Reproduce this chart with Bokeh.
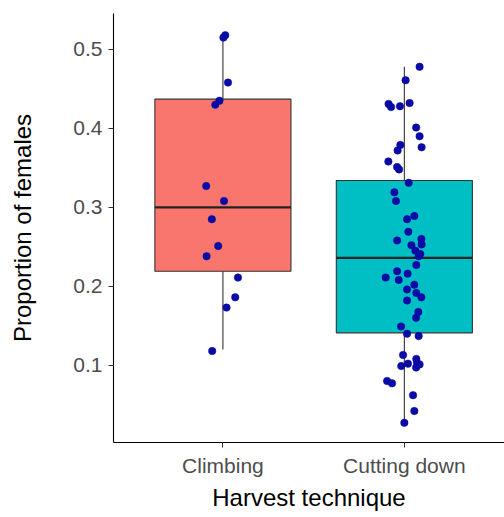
from bokeh.plotting import figure
from bokeh.models import FixedTicker, ColumnDataSource
from bokeh.embed import file_html
from bokeh.resources import INLINE

# ---- data ----
categories = ["Climbing", "Cutting down"]
cat_pos = [1, 2]
box_colors = ["#F8766D", "#00BFC4"]
q1 = [0.219, 0.141]
median = [0.300, 0.236]
q3 = [0.437, 0.334]
whisk_lo = [0.120, 0.027]
whisk_hi = [0.518, 0.478]
box_width = 0.75

climb_y = [0.518, 0.515, 0.458, 0.435, 0.430, 0.327, 0.308, 0.285, 0.251, 0.238,
           0.211, 0.186, 0.173, 0.118]
climb_jit = [0.013, 0.003, 0.028, -0.019, -0.042, -0.092, 0.006, -0.061, -0.026, -0.090,
             0.083, 0.068, 0.020, -0.059]

cut_y = [0.478, 0.461, 0.431, 0.427, 0.428, 0.432, 0.401, 0.390, 0.376, 0.379,
         0.372, 0.358, 0.351, 0.348, 0.331, 0.319, 0.308, 0.289, 0.285, 0.269,
         0.258, 0.260, 0.253, 0.252, 0.245, 0.241, 0.238, 0.227, 0.219, 0.216,
         0.211, 0.208, 0.202, 0.196, 0.1915, 0.186, 0.182, 0.1675, 0.160, 0.149,
         0.140, 0.137, 0.113, 0.108, 0.103, 0.102, 0.099, 0.101, 0.097, 0.080,
         0.077, 0.062, 0.042, 0.027]
cut_jit = [0.084, 0.007, -0.087, -0.073, -0.024, 0.029, 0.065, 0.084, 0.095, -0.022,
           -0.037, -0.088, -0.040, -0.029, 0.024, -0.055, -0.046, 0.055, 0.015, 0.022,
           -0.040, 0.094, 0.095, 0.039, 0.061, 0.088, 0.079, 0.066, -0.040, 0.018,
           -0.103, -0.031, 0.055, 0.015, 0.066, 0.094, 0.015, 0.077, 0.065, -0.018,
           0.015, 0.079, -0.007, 0.066, 0.070, 0.020, -0.017, 0.084, 0.065, -0.095,
           -0.068, 0.048, 0.055, 0.000]

y_ticks = [0.1, 0.2, 0.3, 0.4, 0.5]

FONT = "Liberation Sans"

p = figure(width=504, height=517, output_backend="svg", toolbar_location=None,
           x_range=(0.397, 2.552), y_range=(0.0021, 0.5455),
           min_border_left=113, min_border_right=0, min_border_top=13, min_border_bottom=75)
p.outline_line_color = None
p.xgrid.visible = False
p.ygrid.visible = False
p.background_fill_color = "white"

box_src = ColumnDataSource(dict(
    x=cat_pos, q1=q1, med=median, q3=q3, lo=whisk_lo, hi=whisk_hi, color=box_colors,
    xl=[c - box_width / 2 for c in cat_pos], xr=[c + box_width / 2 for c in cat_pos]))

# whiskers
p.segment(x0="x", y0="lo", x1="x", y1="q1", source=box_src, line_color="#333333", line_width=1.1)
p.segment(x0="x", y0="q3", x1="x", y1="hi", source=box_src, line_color="#333333", line_width=1.1)
# boxes
p.vbar(x="x", width=box_width, bottom="q1", top="q3", source=box_src,
       fill_color="color", line_color="#333333", line_width=1.1)
# median
p.segment(x0="xl", y0="med", x1="xr", y1="med", source=box_src, line_color="#222222", line_width=2.2)

# jittered points
px = [cat_pos[0] + j for j in climb_jit] + [cat_pos[1] + j for j in cut_jit]
py = climb_y + cut_y
p.scatter(px, py, size=7.5, fill_color="#0A0AA5", line_color="#0A0AA5", line_width=0.5)

# axes
for ax in (p.xaxis[0], p.yaxis[0]):
    ax.axis_line_color = "black"
    ax.axis_line_width = 1.1
    ax.major_tick_line_color = "#333333"
    ax.major_tick_in = 0
    ax.major_tick_out = 5
    ax.minor_tick_line_color = None
    ax.major_label_text_font = FONT
    ax.major_label_text_color = "#4D4D4D"
    ax.major_label_text_font_size = "21px"
    ax.axis_label_text_font = FONT
    ax.axis_label_text_font_style = "normal"
    ax.axis_label_text_color = "black"
    ax.axis_label_text_font_size = "24px"

p.xaxis.ticker = FixedTicker(ticks=cat_pos)
p.xaxis.major_label_overrides = {c: n for c, n in zip(cat_pos, categories)}
p.xaxis.axis_label = "Harvest technique"
p.xaxis.major_label_standoff = 6
p.xaxis.axis_label_standoff = 4

p.yaxis.ticker = FixedTicker(ticks=y_ticks)
p.yaxis.major_label_overrides = {t: f"{t:.1f}" for t in y_ticks}
p.yaxis.axis_label = "Proportion of females"
p.yaxis.major_label_standoff = 6
p.yaxis.axis_label_standoff = 34

open("out.html", "w").write(file_html(p, INLINE))
